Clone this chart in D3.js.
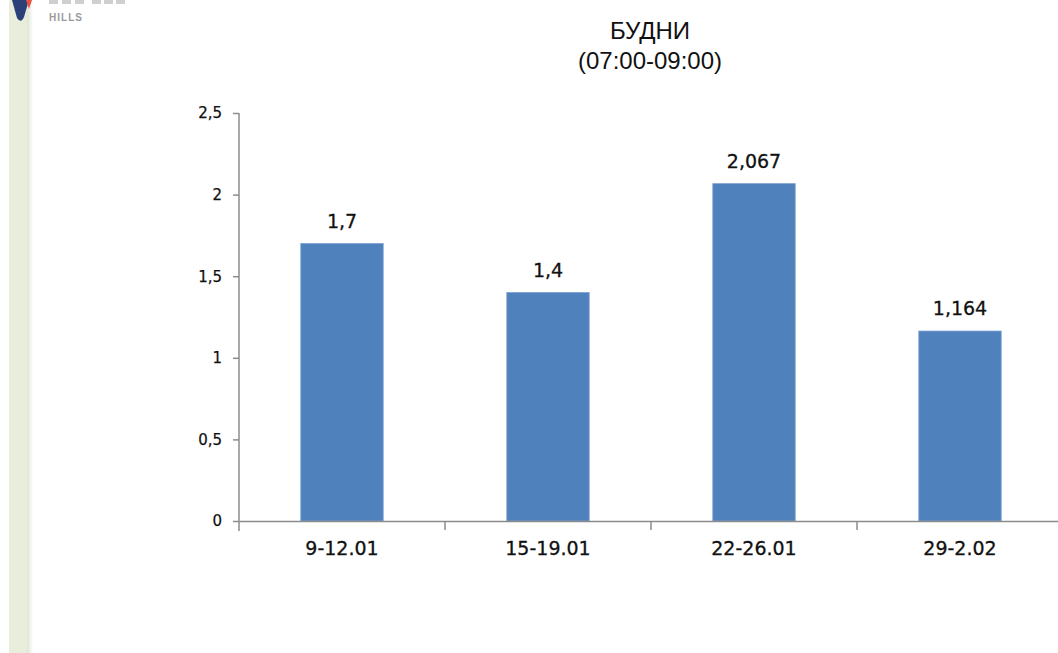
<!DOCTYPE html>
<html>
<head>
<meta charset="utf-8">
<script src="https://cdn.jsdelivr.net/npm/d3@7"></script>
<style>
body{margin:0;background:#fff;}
svg{display:block;}
</style>
</head>
<body>
<div id="chart"></div>
<script>
// data
var categories=["9-12.01","15-19.01","22-26.01","29-2.02"];
var values=[1.7,1.4,2.067,1.164];
var valueLabels=["1,7","1,4","2,067","1,164"];
var yTicks=[0,0.5,1,1.5,2,2.5];
var yTickLabels=["0","0,5","1","1,5","2","2,5"];
var titleLines=["БУДНИ","(07:00-09:00)"];

var width=1058,height=653;
var labelFont="DejaVu Sans, sans-serif";
var svg=d3.select("#chart").append("svg")
	.attr("width",width).attr("height",height);

// left strip of the page behind
var defs=svg.append("defs");
var grad=defs.append("linearGradient").attr("id","stripfade").attr("x1","0").attr("x2","1");
grad.append("stop").attr("offset","0").attr("stop-color","#dfe3d3");
grad.append("stop").attr("offset","1").attr("stop-color","#ffffff");
svg.append("rect").attr("x",9).attr("y",0).attr("width",18).attr("height",height).attr("fill","#e9eddc");
svg.append("rect").attr("x",27).attr("y",0).attr("width",6).attr("height",height).attr("fill","url(#stripfade)");
// logo fragment (top is cropped in the source picture)
svg.append("path").attr("d","M12,0 L29,0 L24,17 Q21,24 17,18 Z").attr("fill","#2b3f78");
svg.append("path").attr("d","M26,0 L32,0 L29,9 Z").attr("fill","#e8503f");
svg.append("g").selectAll("rect").data([49,62,75,92,104,116])
	.enter().append("rect")
	.attr("x",function(d){return d;}).attr("y",0)
	.attr("width",9).attr("height",4).attr("fill","#cfcfcf");
svg.append("text").attr("x",49).attr("y",21).text("HILLS")
	.attr("font-family","Liberation Sans").attr("font-size",10).attr("font-weight","bold")
	.attr("fill","#9a9a9a").attr("textLength",33);

// scales
var x0=239,x1=1063,yTop=113,yBot=521;
var x=d3.scaleBand().domain(categories).range([x0,x1]).paddingInner(0).paddingOuter(0);
var y=d3.scaleLinear().domain([0,2.5]).range([yBot,yTop]);
var barW=x.bandwidth()*0.4;

// title
svg.append("g").selectAll("text").data(titleLines)
	.enter().append("text")
	.attr("x",650)
	.attr("y",function(d,i){return 39+i*30;})
	.attr("text-anchor","middle")
	.attr("font-family","Liberation Sans, Arial")
	.attr("font-size",24)
	.attr("fill","#111")
	.text(function(d){return d;});

// bars
svg.append("g").selectAll("rect").data(values)
	.enter().append("rect")
	.attr("x",function(d,i){return x(categories[i])+x.bandwidth()/2-barW/2;})
	.attr("y",function(d){return y(d);})
	.attr("width",barW)
	.attr("height",function(d){return yBot-y(d);})
	.attr("fill","#4f81bd")
	.attr("stroke","#7aa0cf")
	.attr("stroke-width",0.8);

// value labels
svg.append("g").selectAll("text").data(values)
	.enter().append("text")
	.attr("x",function(d,i){return x(categories[i])+x.bandwidth()/2;})
	.attr("y",function(d){return y(d)-16;})
	.attr("text-anchor","middle")
	.attr("font-family",labelFont)
	.attr("font-size",19)
	.attr("fill","#111")
	.attr("stroke","#111").attr("stroke-width",0.3)
	.text(function(d,i){return valueLabels[i];});

// y axis
var yAxis=d3.axisLeft(y).tickValues(yTicks)
	.tickFormat(function(d,i){return yTickLabels[i];})
	.tickSize(6).tickSizeOuter(0).tickPadding(11);
var gy=svg.append("g").attr("transform","translate("+x0+",0)").call(yAxis);
gy.select(".domain").attr("stroke","#8c8c8c").attr("stroke-width",1.5).attr("d","M0,"+yTop+"V"+(yBot+10));
gy.selectAll(".tick line").attr("stroke","#8c8c8c").attr("stroke-width",1.5);
gy.selectAll(".tick text").attr("font-family",labelFont).attr("font-size",15).attr("fill","#111")
	.attr("stroke","#111").attr("stroke-width",0.25);

// x axis
var xAxis=d3.axisBottom(x).tickSize(0).tickPadding(21);
var gx=svg.append("g").attr("transform","translate(0,"+yBot+")").call(xAxis);
gx.select(".domain").attr("stroke","#8c8c8c").attr("stroke-width",1.5);
gx.selectAll(".tick text").attr("font-family",labelFont).attr("font-size",19).attr("fill","#111")
	.attr("stroke","#111").attr("stroke-width",0.3);
// category separators
gx.append("g").selectAll("line").data(categories.slice(1))
	.enter().append("line")
	.attr("x1",function(d){return x(d);}).attr("x2",function(d){return x(d);})
	.attr("y1",0).attr("y2",9)
	.attr("stroke","#8c8c8c").attr("stroke-width",1.5);
</script>
</body>
</html>
